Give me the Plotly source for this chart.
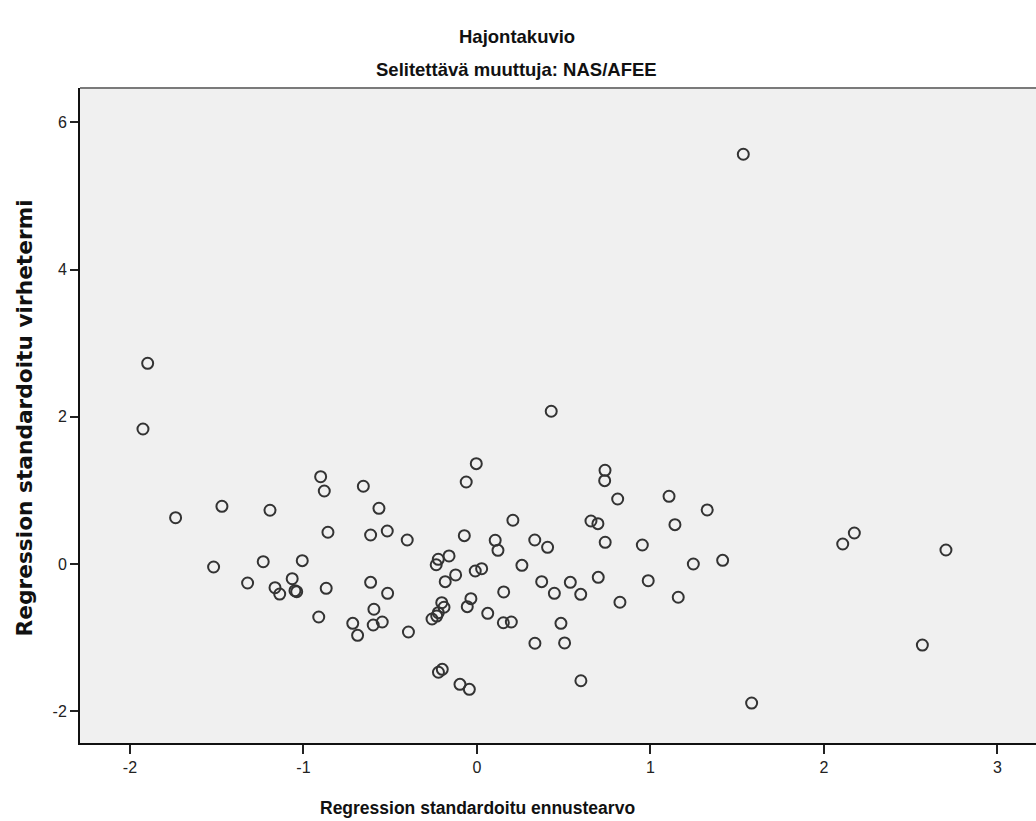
import plotly.graph_objects as go

# Regression standardized predicted value (x) and standardized residual (y)
pred_values = [
    1.535, -1.898, -1.925, -1.737, -1.470, -1.193, -0.901, -0.880, -0.655, -0.565,
    -0.859, -0.613, -1.518, -1.232, -1.007, -1.322, -1.065, -1.164, -1.137, -1.049,
    -1.039, -0.869, -0.613, -0.594, -0.912, -0.716, -0.598, -0.688, -0.517, -0.402,
    -0.546, -0.515, -0.395, 0.428, -0.004, -0.062, 0.738, 0.736, 0.811, 1.107,
    0.207, -0.073, 0.105, 0.121, 0.333, 0.407, 0.657, 0.697, 0.739, 0.953,
    -0.223, -0.235, -0.161, -0.123, -0.183, -0.010, 0.027, 0.259, -0.203, -0.190,
    -0.223, -0.259, -0.232, -0.035, -0.056, 0.062, 0.154, 0.152, 0.198, 0.373,
    0.446, 0.538, 0.598, 0.699, 0.824, 0.987, 0.484, 1.327, 1.141, 1.247,
    1.416, 1.160, 2.175, 2.108, 2.703, 2.567, 1.583, -0.222, -0.200, -0.098,
    -0.044, 0.334, 0.505, 0.599,
]
resid_values = [
    5.567, 2.727, 1.834, 0.629, 0.784, 0.730, 1.186, 0.992, 1.056, 0.757,
    0.431, 0.394, -0.041, 0.031, 0.045, -0.258, -0.200, -0.322, -0.408, -0.363,
    -0.376, -0.330, -0.249, -0.615, -0.720, -0.806, -0.829, -0.969, 0.448, 0.326,
    -0.788, -0.398, -0.924, 2.075, 1.363, 1.114, 1.273, 1.132, 0.883, 0.920,
    0.594, 0.385, 0.322, 0.186, 0.326, 0.227, 0.584, 0.548, 0.295, 0.258,
    0.064, -0.010, 0.109, -0.149, -0.240, -0.095, -0.064, -0.018, -0.526, -0.588,
    -0.662, -0.747, -0.707, -0.471, -0.580, -0.670, -0.380, -0.798, -0.788, -0.240,
    -0.398, -0.249, -0.412, -0.181, -0.520, -0.227, -0.806, 0.734, 0.534, 0.000,
    0.050, -0.452, 0.421, 0.272, 0.190, -1.101, -1.889, -1.471, -1.431, -1.635,
    -1.703, -1.077, -1.073, -1.586,
]

x_ticks = [-2, -1, 0, 1, 2, 3]
x_tick_labels = ["-2", "-1", "0", "1", "2", "3"]
y_ticks = [-2, 0, 2, 4, 6]
y_tick_labels = ["-2", "0", "2", "4", "6"]

title_text = "Hajontakuvio"
subtitle_text = "Selitettävä muuttuja: NAS/AFEE"
x_title = "Regression standardoitu ennustearvo"
y_title = "Regression standardoitu virhetermi"

SANS = "Liberation Sans, Arial, sans-serif"

fig = go.Figure()
fig.add_trace(go.Scatter(
    x=pred_values, y=resid_values, mode="markers",
    marker=dict(symbol="circle-open", size=11, color="#333333",
                line=dict(width=2, color="#333333")),
    hoverinfo="x+y", showlegend=False,
))

tick_font = dict(family=SANS, size=16, color="#222222")

fig.update_layout(
    width=1036, height=821,
    margin=dict(l=80, r=0, t=88, b=78),
    paper_bgcolor="white",
    plot_bgcolor="#F0F0F0",
    xaxis=dict(range=[-2.288, 3.222], tickvals=x_ticks, ticktext=x_tick_labels,
               ticks="outside", ticklen=9,
               tickwidth=1.5, tickcolor="#222", showline=True, linecolor="#111",
               linewidth=2, showgrid=False, zeroline=False, tickfont=tick_font),
    yaxis=dict(range=[-2.432, 6.467], tickvals=y_ticks, ticktext=y_tick_labels,
               ticks="outside", ticklen=8,
               tickwidth=1.5, tickcolor="#222", showline=True, linecolor="#111",
               linewidth=2, showgrid=False, zeroline=False, tickfont=tick_font),
    shapes=[dict(type="line", xref="paper", yref="paper", x0=0, x1=1, y0=1, y1=1,
                 line=dict(color="#7a7a7a", width=2))],
    annotations=[
        dict(text="<b>" + title_text + "</b>", xref="paper", yref="paper", x=0.4571, y=1.0779,
             xanchor="center", yanchor="middle", showarrow=False,
             font=dict(family=SANS, size=18.5, color="#111")),
        dict(text="<b>" + subtitle_text + "</b>", xref="paper", yref="paper", x=0.4571, y=1.0275,
             xanchor="center", yanchor="middle", showarrow=False,
             font=dict(family=SANS, size=18.5, color="#111")),
        dict(text="<b>" + x_title + "</b>", xref="paper", yref="paper", x=0.4153, y=-0.0992,
             xanchor="center", yanchor="middle", showarrow=False,
             font=dict(family=SANS, size=17.5, color="#111")),
        dict(text="<b>" + y_title + "</b>", xref="paper", yref="paper", x=-0.0586, y=0.497,
             xanchor="center", yanchor="middle", showarrow=False, textangle=-90,
             font=dict(family="DejaVu Sans, sans-serif", size=21.7, color="#111")),
    ],
)

fig.write_html("out.html", config={"displayModeBar": False},
               post_script="document.body.style.margin='0';document.body.style.padding='0';")
